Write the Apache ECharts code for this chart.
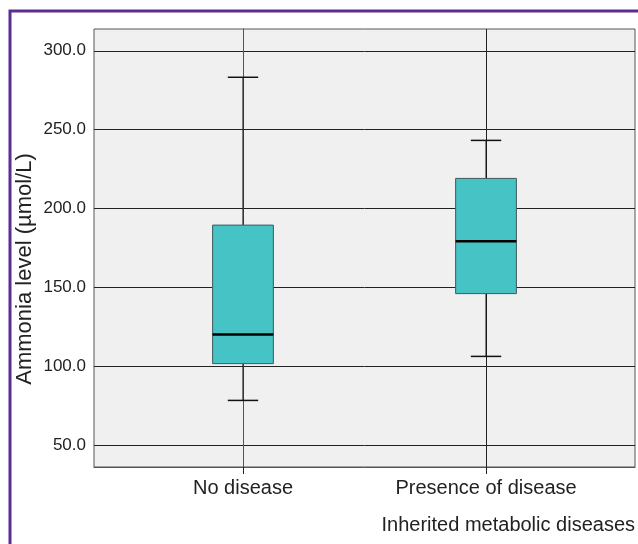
<!DOCTYPE html>
<html>
<head>
<meta charset="utf-8">
<script src="https://cdn.jsdelivr.net/npm/echarts@6/dist/echarts.min.js"></script>
<style>
  html, body { margin: 0; padding: 0; background: #fff; }
  #main { width: 638px; height: 544px; }
</style>
</head>
<body>
<div id="main"></div>
<script>
// categories and their positions on the x axis
var categories = ['No disease', 'Presence of disease']
var xPositions = [0, 1]
// boxplot values (µmol/L)
var whiskerMin = [78.4, 106.3]
var q1 = [101.7, 146.1]
var median = [120.1, 179.3]
var q3 = [189.5, 219.1]
var whiskerMax = [283.2, 243.2]
// y axis tick labels
var yTicks = [50, 100, 150, 200, 250, 300]

var boxData = xPositions.map(function (x, i) {
  return [x, whiskerMin[i], q1[i], median[i], q3[i], whiskerMax[i]]
})

var chart = echarts.init(document.getElementById('main'))

function renderBox(params, api) {
  var x = api.value(0)
  var pMin = api.coord([x, api.value(1)])
  var pQ1 = api.coord([x, api.value(2)])
  var pMed = api.coord([x, api.value(3)])
  var pQ3 = api.coord([x, api.value(4)])
  var pMax = api.coord([x, api.value(5)])
  var unit = api.size([1, 0])[0]
  var half = unit * 0.125 // box is a quarter of the spacing
  var capHalf = half / 2
  var cx = pMed[0]
  var line = { stroke: '#111', lineWidth: 1 }
  return {
    type: 'group',
    children: [
      { type: 'line', shape: { x1: cx, y1: pMin[1], x2: cx, y2: pQ1[1] }, style: line },
      { type: 'line', shape: { x1: cx, y1: pQ3[1], x2: cx, y2: pMax[1] }, style: line },
      { type: 'line', shape: { x1: cx - capHalf, y1: pMin[1], x2: cx + capHalf, y2: pMin[1] }, style: { stroke: '#111', lineWidth: 1.5 } },
      { type: 'line', shape: { x1: cx - capHalf, y1: pMax[1], x2: cx + capHalf, y2: pMax[1] }, style: { stroke: '#111', lineWidth: 1.5 } },
      {
        type: 'rect',
        shape: { x: cx - half, y: pQ3[1], width: half * 2, height: pQ1[1] - pQ3[1] },
        style: { fill: '#45c3c5', stroke: '#3d5a5c', lineWidth: 1 }
      },
      { type: 'line', shape: { x1: cx - half, y1: pMed[1], x2: cx + half, y2: pMed[1] }, style: { stroke: '#000', lineWidth: 2.5 } }
    ]
  }
}

chart.setOption({
  animation: false,
  textStyle: { fontFamily: 'Liberation Sans, Arial, sans-serif' },
  graphic: [
    {
      type: 'rect',
      shape: { x: 10, y: 11, width: 700, height: 600 },
      style: { fill: 'none', stroke: '#5e2d91', lineWidth: 3 },
      z: 100
    },
    {
      // y axis title
      type: 'text',
      x: 25,
      y: 269,
      rotation: Math.PI / 2,
      style: {
        text: 'Ammonia level (µmol/L)',
        fontSize: 22,
        fontFamily: 'Liberation Sans, Arial, sans-serif',
        fill: '#222',
        align: 'center',
        verticalAlign: 'middle'
      }
    }
  ],
  grid: {
    left: 94,
    top: 29,
    right: 3,
    bottom: 77,
    show: true,
    backgroundColor: '#f0f0f0',
    borderColor: '#555',
    borderWidth: 1
  },
  xAxis: {
    type: 'value',
    min: -0.613,
    max: 1.613,
    name: 'Inherited metabolic diseases',
    nameLocation: 'end',
    nameGap: 0,
    nameTextStyle: {
      fontSize: 20,
      color: '#222',
      align: 'right',
      verticalAlign: 'top',
      padding: [48, 0, 0, 0]
    },
    axisLine: { show: true, lineStyle: { color: '#555', width: 1 } },
    axisTick: { show: true, length: 7, customValues: xPositions, lineStyle: { color: '#222' } },
    axisLabel: {
      customValues: xPositions,
      margin: 11,
      fontSize: 20,
      color: '#222',
      formatter: function (v) { return categories[Math.round(v)] }
    },
    splitLine: { show: true, lineStyle: { color: '#222', width: 1 } }
  },
  yAxis: {
    type: 'value',
    min: 36.2,
    max: 313.8,
    axisLine: { show: true, lineStyle: { color: '#555', width: 1 } },
    axisTick: { show: true, length: 7, customValues: yTicks, lineStyle: { color: '#222' } },
    axisLabel: {
      customValues: yTicks,
      margin: 8,
      fontSize: 17,
      color: '#222',
      formatter: function (v) { return v.toFixed(1) }
    },
    splitLine: { show: true, lineStyle: { color: '#222', width: 1 } }
  },
  series: [
    {
      type: 'custom',
      renderItem: renderBox,
      encode: { x: 0, y: [1, 2, 3, 4, 5] },
      data: boxData,
      z: 1
    }
  ]
})
</script>
</body>
</html>
